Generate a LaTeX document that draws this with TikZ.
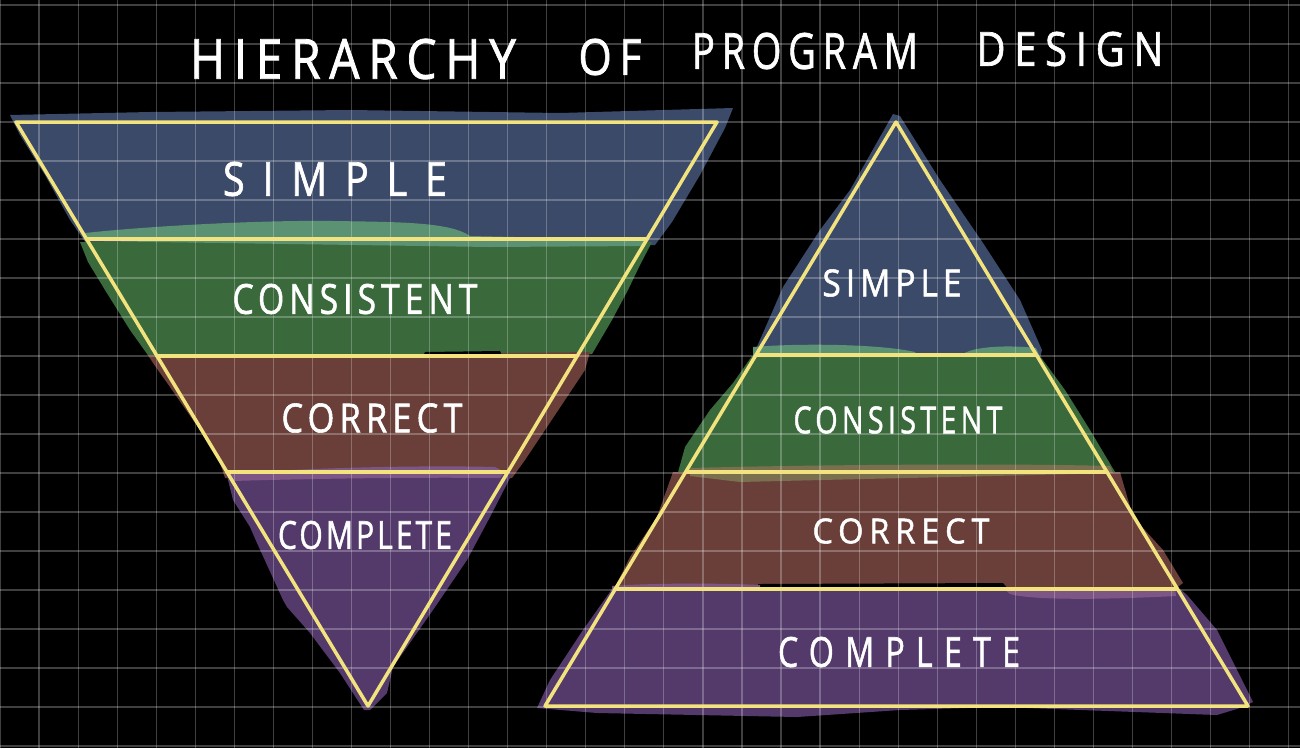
\documentclass[tikz,border=0pt]{standalone}
\usepackage{fontspec}
\usepackage{graphicx}
\newfontfamily\hand[FakeBold=1.5]{Open Sans}
\definecolor{cblue}{HTML}{3B4A69}
\definecolor{cgreen}{HTML}{3A6A3B}
\definecolor{cgreenlt}{HTML}{5B9273}
\definecolor{cbrown}{HTML}{6A3F39}
\definecolor{colive}{HTML}{7A7050}
\definecolor{cpurple}{HTML}{533A6B}
\definecolor{cpurplelt}{HTML}{7E5685}
\definecolor{cyel}{HTML}{F3E37E}
\newcommand{\lab}[4]{\resizebox{#1pt}{#2pt}{\hand\addfontfeature{LetterSpace=#3}#4}}
\begin{document}
\begin{tikzpicture}[x=1pt,y=-1pt,
  edge/.style={draw=cyel, line width=3.5pt, line join=round, line cap=round},
  gridline/.style={draw=white, draw opacity=0.25, line width=1.2pt},
  lbl/.style={text=white, inner sep=0pt, anchor=center}]
\fill[black] (0,0) rectangle (1300,748);
\useasboundingbox (0,0) rectangle (1300,748);

% ---------- left (inverted) triangle paint ----------
\fill[cblue] (10,115) -- (150,112) -- (350,110) -- (560,113) -- (733,108) -- (725,128)
  -- (700,175) -- (672,222) -- (655,245) -- (88,246) -- (70,220) -- (45,175) -- (20,135) -- cycle;
\fill[cgreen] (80,242) -- (652,242) -- (640,265) -- (628,290) -- (612,320) -- (592,354)
  -- (150,358) -- (130,330) -- (105,290) -- (88,262) -- cycle;
\fill[cgreenlt] (85,233) .. controls (150,226) and (260,220) .. (333,221)
  .. controls (400,222) and (450,222) .. (470,236) -- (648,240) -- (645,246)
  -- (490,247) -- (88,241) -- cycle;
\fill[cbrown] (148,355) -- (420,354) -- (590,352) -- (585,370) -- (565,400) -- (545,430)
  -- (525,460) -- (512,478) -- (225,478) -- (217,453) -- (193,420) -- (170,387) -- (153,363) -- cycle;
\fill[black] (425,352) -- (500,351) -- (502,356) -- (423,356) -- cycle;
\fill[cpurple] (226,472) -- (512,472) -- (510,478) -- (490,517) -- (467,560) -- (433,610)
  -- (393,667) -- (387,693) -- (370,710) -- (364,710) -- (340,673) -- (310,633)
  -- (287,607) -- (283,600) -- (257,543) -- (250,527) -- (233,500) -- cycle;
\fill[cpurplelt] (228,474) .. controls (300,468) and (420,465) .. (495,467)
  -- (505,472) -- (500,478) .. controls (400,477) and (300,479) .. (232,481) -- cycle;

% ---------- right triangle paint ----------
\fill[cblue] (893,114) -- (900,116) -- (940,180) -- (983,243) -- (1020,300) -- (1042,350)
  -- (1040,358) -- (752,358) -- (763,333) -- (783,287) -- (820,230) -- (850,190) -- cycle;
\fill[cgreen] (752,356) -- (1040,356) -- (1065,390) -- (1090,430) -- (1115,472) -- (1112,476)
  -- (677,476) -- (685,447) -- (710,410) -- (733,383) -- cycle;
\fill[cgreenlt] (753,347) .. controls (800,343) and (880,344) .. (915,352) -- (918,357)
  -- (753,357) -- cycle;
\fill[cgreenlt] (963,354) .. controls (975,346) and (1010,345) .. (1036,348) -- (1040,357)
  -- (962,357) -- cycle;
\fill[cbrown] (673,472) -- (1120,472) -- (1133,517) -- (1163,550) -- (1183,583) -- (1167,595)
  -- (612,593) -- (630,557) -- (657,517) -- cycle;
\fill[colive] (690,468) .. controls (800,465) and (1000,463) .. (1110,466) -- (1113,473)
  .. controls (1000,476) and (900,478) .. (740,482) -- (690,476) -- cycle;
\fill[black] (758,584) -- (1003,583) -- (1008,589) -- (758,590) -- cycle;
\fill[cpurple] (612,589) -- (1180,589) -- (1187,595) -- (1217,630) -- (1253,702) -- (1240,708)
  -- (1217,715) -- (1000,707) -- (900,710) -- (797,717) -- (597,713) -- (537,708)
  -- (550,680) -- (583,630) -- cycle;
\fill[cpurplelt] (612,586) .. controls (650,583) and (720,583) .. (760,585) -- (760,590) -- (612,590) -- cycle;
\fill[cpurplelt] (1003,588) -- (1175,588) -- (1176,596) .. controls (1100,600) and (1030,600) .. (1010,594) -- cycle;

% ---------- grid ----------
\foreach \i in {0,...,33} \draw[gridline] (\i*39.05,0) -- (\i*39.05,748);
\foreach \j in {0,...,19} \draw[gridline] (0,5+\j*39) -- (1300,5+\j*39);

% ---------- outlines ----------
\coordinate (LA) at (16,122); \coordinate (LB) at (717,122); \coordinate (LC) at (368,706);
\coordinate (RA) at (896,122); \coordinate (RB) at (1248,706); \coordinate (RC) at (545,706);
\draw[edge] (LA) -- (LB) -- (LC) -- cycle;
\draw[edge] (86.5,239) -- (647,239);
\draw[edge] (157,356) -- (577,356);
\draw[edge] (227,472) -- (508,472);
\draw[edge] (RA) -- (RB) -- (RC) -- cycle;
\draw[edge] (756,355) -- (1036,355);
\draw[edge] (686,472) -- (1107,472);
\draw[edge] (615,589) -- (1177,589);

% ---------- text ----------
\node[lbl] (t1) at (353,59) {\lab{326}{40}{18}{HIERARCHY}};
\node[lbl] (t2) at (610,57) {\lab{63}{36}{18}{OF}};
\node[lbl] (t3) at (805,51) {\lab{226}{36}{18}{PROGRAM}};
\node[lbl] (t4) at (1070,49) {\lab{187}{34}{22}{DESIGN}};

\node[lbl] (ls1) at (335,179) {\lab{224}{34}{45}{SIMPLE}};
\node[lbl] (ls2) at (355,299) {\lab{245}{30}{15}{CONSISTENT}};
\node[lbl] (ls3) at (372,418) {\lab{181}{29}{15}{CORRECT}};
\node[lbl] (ls4) at (365,535) {\lab{174}{28}{10}{COMPLETE}};

\node[lbl] (rs1) at (892,283) {\lab{139}{27}{15}{SIMPLE}};
\node[lbl] (rs2) at (898,420) {\lab{209}{27}{15}{CONSISTENT}};
\node[lbl] (rs3) at (901,531) {\lab{177}{25}{18}{CORRECT}};
\node[lbl] (rs4) at (899,652) {\lab{242}{30}{35}{COMPLETE}};
\end{tikzpicture}
\end{document}
